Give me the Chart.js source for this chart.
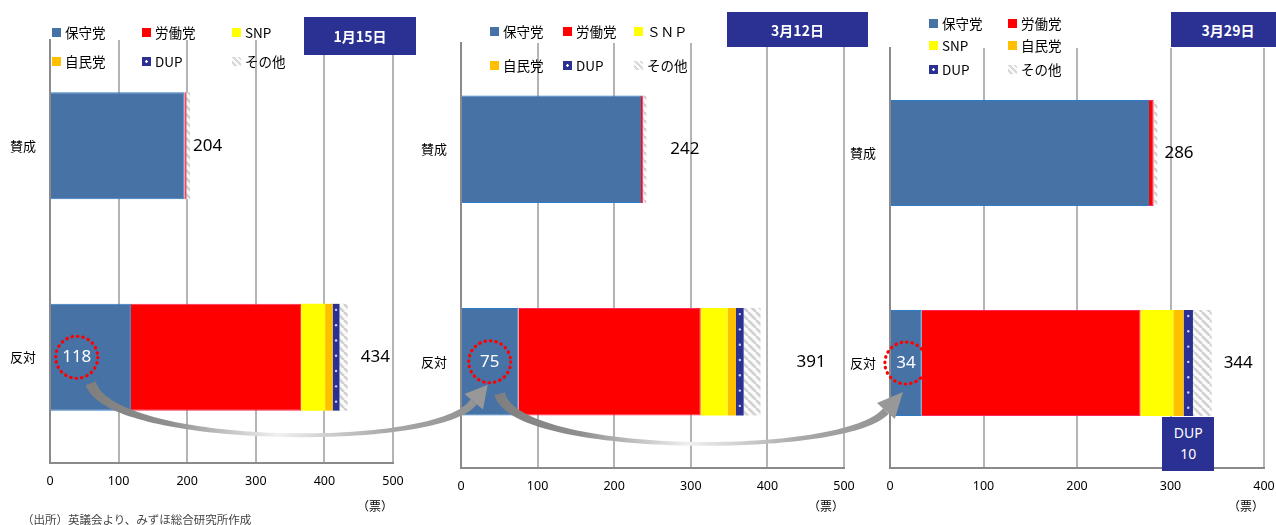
<!DOCTYPE html>
<html>
<head>
<meta charset="utf-8">
<script src="https://cdn.jsdelivr.net/npm/chart.js@4.4.1/dist/chart.umd.min.js"></script>
<style>
  body { margin: 0; width: 1276px; height: 525px; position: relative; overflow: hidden; background: #fff;
         font-family: "Noto Sans CJK JP", "Noto Sans", sans-serif; }
  canvas.c { position: absolute; top: 0; }
  #overlay { position: absolute; left: 0; top: 0; pointer-events: none; }
  .date { position: absolute; background: #2B3193; color: #fff; font-weight: bold; font-size: 14px;
          display: flex; align-items: center; justify-content: center; }
  .li { position: absolute; white-space: nowrap; font-size: 13.5px; color: #000; line-height: 16px; }
  .sw { position: absolute; width: 9px; height: 9px; }
  .dup { position: absolute; background: #2B3193; color: #fff; font-size: 14px; line-height: 21px;
         text-align: center; font-family: "Noto Sans", sans-serif; }
  #note { position: absolute; left: 22px; top: 511px; font-size: 11.5px; color: #444; white-space: nowrap; }
</style>
</head>
<body>
<canvas class="c" id="c1"></canvas>
<canvas class="c" id="c2"></canvas>
<canvas class="c" id="c3"></canvas>
<canvas id="overlay" width="1276" height="525"></canvas>
<div id="note">（出所）英議会より、みずほ総合研究所作成</div>
<script>
const categories = ["賛成", "反対"];
const parties = ["保守党", "労働党", "SNP", "自民党", "DUP", "その他"];
const partiesWide = ["保守党", "労働党", "ＳＮＰ", "自民党", "DUP", "その他"];
const dates = ["1月15日", "3月12日", "3月29日"];

// 票数 [保守党, 労働党, SNP, 自民党, DUP, その他]
const jan15Aye = [196, 3, 0, 0, 0, 5];
const jan15No = [118, 248, 35, 11, 10, 12];
const mar12Aye = [235, 3, 0, 0, 0, 4];
const mar12No = [75, 238, 35, 11, 10, 22];
const mar29Aye = [277, 5, 0, 0, 0, 4];
const mar29No = [34, 234, 35, 11, 10, 20];
const xMax = [500, 500, 400];

// hatch for その他
function hatch() {
  const c = document.createElement("canvas");
  c.width = 8; c.height = 8;
  const g = c.getContext("2d");
  g.fillStyle = "#fbfbfb"; g.fillRect(0, 0, 8, 8);
  g.strokeStyle = "#d0d0d0"; g.lineWidth = 2.5;
  for (const k of [-8, 0, 8]) { g.beginPath(); g.moveTo(k, 0); g.lineTo(k + 8, 8); g.stroke(); }
  return g.createPattern(c, "repeat");
}

const colors = ["#4672A6", "#FF0000", "#FFFF00", "#FFC000", "#2B3192", hatch()];
const borders = ["#2F7BC8", "#FF2A5A", "#FFFF00", "#FFC000", "#2B3192", "#ffffff"];
const swatchCss = ["#4672A6", "#FF0000", "#FFFF00", "#FFC000",
  "radial-gradient(circle, #fff 0 1px, #2B3192 1.5px)",
  "repeating-linear-gradient(45deg, #fafafa 0 2px, #d8d8d8 2px 4px)"];

const panels = [
  { id: "c1", left: 0, width: 440, area: { left: 50, right: 393, top: 40, bottom: 463 },
    aye: jan15Aye, no: jan15No, names: parties, max: xMax[0], date: dates[0], gaps: [3, 13], circleAt: 39,
    legend: { cols: [52, 142, 232], rows: [32, 61] }, dateBox: [304, 17, 112, 38] },
  { id: "c2", left: 420, width: 460, area: { left: 461, right: 844, top: 43, bottom: 468 },
    aye: mar12Aye, no: mar12No, names: partiesWide, max: xMax[1], date: dates[1], gaps: [24, 36], circleAt: 37.5,
    legend: { cols: [490, 563, 634], rows: [31, 65] }, dateBox: [727, 12, 141, 35] },
  { id: "c3", left: 850, width: 440, area: { left: 890, right: 1264, top: 48, bottom: 468 },
    aye: mar29Aye, no: mar29No, names: parties, max: xMax[2], date: dates[2], gaps: [7, 12], circleAt: 17,
    legend: { cols: [929, 1008], rows: [23, 45, 69] }, dateBox: [1171, 12, 114, 35] },
];

const sum = (a) => a.reduce((s, v) => s + v, 0);

function makeChart(p) {
  const canvas = document.getElementById(p.id);
  canvas.width = p.width; canvas.height = 525;
  canvas.style.left = p.left + "px";

  const labelsPlugin = {
    id: "labels" + p.id,
    afterDatasetsDraw(chart) {
      const { ctx, scales: { x, y } } = chart;
      ctx.save();
      // totals
      ctx.font = "17px 'Noto Sans', sans-serif";
      ctx.fillStyle = "#000";
      ctx.textAlign = "left"; ctx.textBaseline = "middle";
      [sum(p.aye), sum(p.no)].forEach((t, i) => {
        ctx.fillText(String(t), x.getPixelForValue(t) + p.gaps[i], y.getPixelForValue(i));
      });
      // DUP dots
      chart.getDatasetMeta(4).data.forEach((el) => {
        if (Math.abs(el.x - el.base) < 1) return;
        const cx = (el.x + el.base) / 2, top = el.y - el.height / 2, bottom = el.y + el.height / 2;
        ctx.fillStyle = "#cfd3ff";
        for (let yy = top + 6; yy < bottom - 3; yy += 15.3) {
          ctx.beginPath(); ctx.arc(cx, yy, 1.2, 0, Math.PI * 2); ctx.fill();
        }
      });
      // 保守党の反対票と赤い点線の丸
      const cx = x.getPixelForValue(p.circleAt), cy = y.getPixelForValue(1);
      ctx.fillStyle = "#fff";
      ctx.textAlign = "center";
      ctx.fillText(String(p.no[0]), cx, cy);
      ctx.strokeStyle = "#FF0000"; ctx.lineWidth = 3.2; ctx.lineCap = "round";
      ctx.setLineDash([0.5, 5]);
      ctx.beginPath(); ctx.arc(cx, cy, 21, 0, Math.PI * 2); ctx.stroke();
      ctx.restore();
    },
  };

  const datasets = p.names.map((name, i) => ({
    label: name,
    data: [p.aye[i], p.no[i]],
    backgroundColor: colors[i],
    borderColor: borders[i],
    borderWidth: i < 2 ? 1 : 0,
    barPercentage: 0.505,
    categoryPercentage: 1,
  }));

  return new Chart(canvas, {
    type: "bar",
    data: { labels: categories, datasets },
    options: {
      indexAxis: "y",
      responsive: false,
      animation: false,
      layout: { padding: { left: 0, right: p.left + p.width - p.area.right, top: p.area.top, bottom: 10 } },
      plugins: { legend: { display: false }, tooltip: { enabled: false } },
      scales: {
        x: {
          stacked: true, min: 0, max: p.max,
          ticks: { stepSize: 100, padding: 11, color: "#000", font: { family: "'Noto Sans', sans-serif", size: 12.5 } },
          grid: { color: "#b4b4b4", lineWidth: 2, drawTicks: false },
          border: { color: "#8a8a8a", width: 2 },
          title: { display: true, text: "（票）", align: "end", color: "#000",
                   font: { family: "'Noto Sans CJK JP', sans-serif", size: 12 }, padding: { top: 0, bottom: 1 } },
          afterFit: (s) => { s.height = 515 - p.area.bottom; },
        },
        y: {
          stacked: true,
          ticks: { padding: 14, color: "#000", font: { family: "'Noto Sans CJK JP', sans-serif", size: 13 } },
          grid: { display: false, drawTicks: false },
          border: { color: "#8a8a8a", width: 2 },
          afterFit: (s) => { s.width = p.area.left - p.left; },
        },
      },
    },
    plugins: [labelsPlugin],
  });
}

const charts = panels.map(makeChart);

// 凡例と日付
panels.forEach((p) => {
  const perRow = p.legend.cols.length;
  p.names.forEach((name, i) => {
    const x = p.legend.cols[i % perRow], y = p.legend.rows[Math.floor(i / perRow)];
    const sw = document.createElement("div");
    sw.className = "sw";
    sw.style.left = x + "px"; sw.style.top = (y - 4.5) + "px";
    sw.style.background = swatchCss[i];
    document.body.appendChild(sw);
    const li = document.createElement("div");
    li.className = "li";
    li.style.left = (x + 13) + "px"; li.style.top = (y - 8) + "px";
    li.textContent = name;
    document.body.appendChild(li);
  });
  const d = document.createElement("div");
  d.className = "date";
  const [l, t, w, h] = p.dateBox;
  Object.assign(d.style, { left: l + "px", top: t + "px", width: w + "px", height: h + "px" });
  d.textContent = p.date;
  document.body.appendChild(d);
});

// DUP 10 の箱
{
  const p = panels[2], ch = charts[2];
  const el = ch.getDatasetMeta(4).data[1];
  const mid = sum(p.no.slice(0, 4)) + p.no[4] / 2;
  const cx = ch.scales.x.getPixelForValue(mid) + p.left;
  const box = document.createElement("div");
  box.className = "dup";
  Object.assign(box.style, { left: (cx - 26) + "px", top: (el.y + el.height / 2 + 1) + "px", width: "52px", height: "54px", paddingTop: "5px", boxSizing: "border-box" });
  box.innerHTML = p.names[4] + "<br>" + p.no[4];
  document.body.appendChild(box);
}

// 曲線矢印
const g = document.getElementById("overlay").getContext("2d");
const centers = panels.map((p, i) => ({
  x: charts[i].scales.x.getPixelForValue(p.circleAt) + p.left,
  y: charts[i].scales.y.getPixelForValue(1),
}));
const off = (c, dx, dy) => ({ x: c.x + dx, y: c.y + dy });

function bez(P, t) {
  const u = 1 - t;
  return {
    x: u * u * u * P[0].x + 3 * u * u * t * P[1].x + 3 * u * t * t * P[2].x + t * t * t * P[3].x,
    y: u * u * u * P[0].y + 3 * u * u * t * P[1].y + 3 * u * t * t * P[2].y + t * t * t * P[3].y,
  };
}

function drawArrow(P, tip) {
  const N = 80, L = [], R = [];
  for (let i = 0; i <= N; i++) {
    const t = i / N;
    const a = bez(P, Math.max(0, t - 0.01)), b = bez(P, Math.min(1, t + 0.01)), m = bez(P, t);
    let dx = b.x - a.x, dy = b.y - a.y;
    const len = Math.hypot(dx, dy); dx /= len; dy /= len;
    const w = (9 * Math.pow(1 - t, 3) + 2 + 6 * Math.pow(t, 3)) / 2;
    L.push({ x: m.x - dy * w, y: m.y + dx * w });
    R.push({ x: m.x + dy * w, y: m.y - dx * w });
  }
  const grad = g.createLinearGradient(P[0].x, 0, tip.x, 0);
  grad.addColorStop(0, "#7f7f7f");
  grad.addColorStop(0.2, "#8f8f8f");
  grad.addColorStop(0.47, "#f0f0f0");
  grad.addColorStop(0.75, "#a8a8a8");
  grad.addColorStop(1, "#8f8f8f");
  g.fillStyle = grad;
  g.beginPath();
  L.forEach((q, i) => (i ? g.lineTo(q.x, q.y) : g.moveTo(q.x, q.y)));
  for (let i = R.length - 1; i >= 0; i--) g.lineTo(R[i].x, R[i].y);
  g.closePath(); g.fill();
  // head
  const base = P[3];
  let dx = tip.x - base.x, dy = tip.y - base.y;
  const len = Math.hypot(dx, dy); dx /= len; dy /= len;
  g.fillStyle = "#989898";
  g.beginPath();
  g.moveTo(tip.x, tip.y);
  g.lineTo(base.x - dy * 12, base.y + dx * 12);
  g.lineTo(base.x + dy * 12, base.y - dx * 12);
  g.closePath(); g.fill();
}

{
  const [c1, c2, c3] = centers;
  drawArrow([off(c1, 14, 26), off(c1, 33, 90), off(c2, -50, 89), off(c2, -16, 40)], off(c2, -2, 23));
  drawArrow([off(c2, 10, 32), off(c2, 25, 95), off(c3, -60, 95), off(c3, -20, 48)], off(c3, -3, 29));
}
</script>
</body>
</html>
